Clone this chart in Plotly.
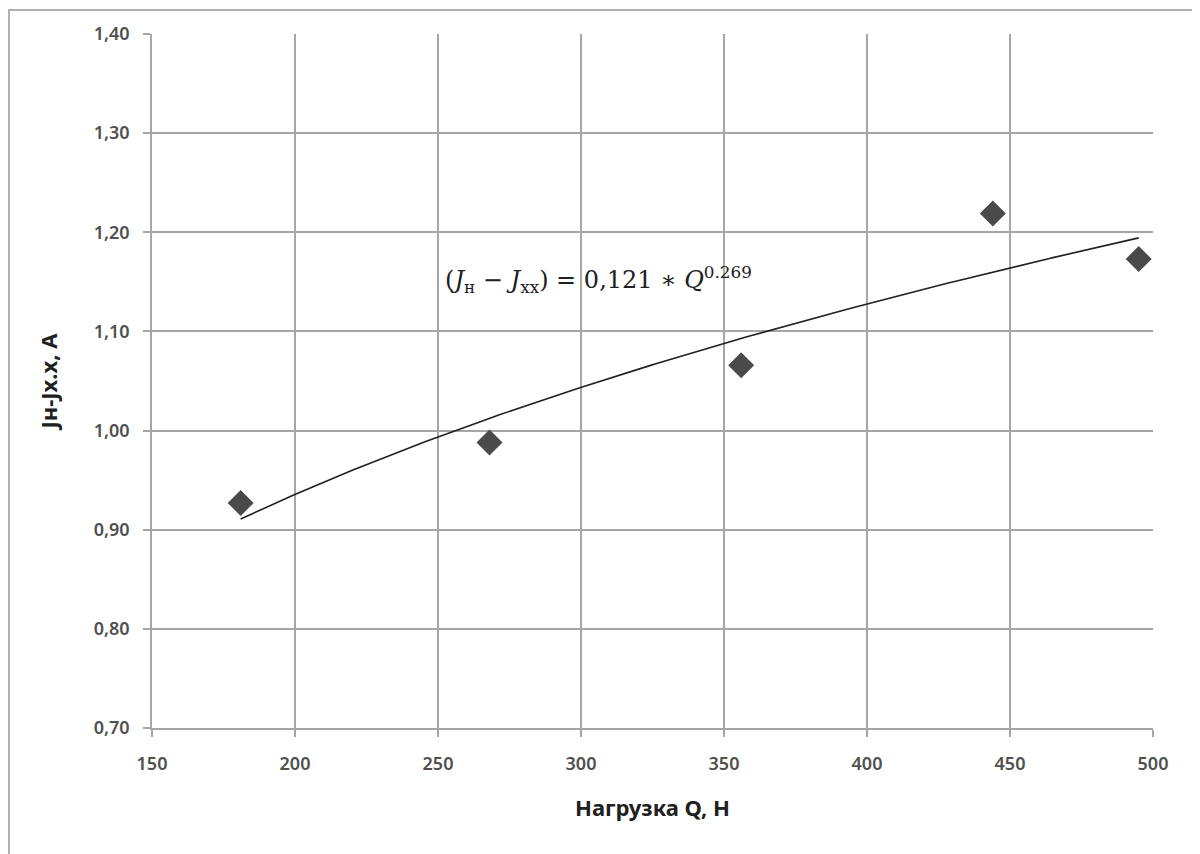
import numpy as np
import plotly.graph_objects as go

load_q = [181, 268, 356, 444, 495]
current_diff = [0.927, 0.988, 1.066, 1.219, 1.173]

x_ticks = [150, 200, 250, 300, 350, 400, 450, 500]
y_ticks = [0.70, 0.80, 0.90, 1.00, 1.10, 1.20, 1.30, 1.40]

# power trendline fitted to the data (as the spreadsheet does)
b, ln_a = np.polyfit(np.log(load_q), np.log(current_diff), 1)
xs = np.linspace(min(load_q), max(load_q), 200)
ys = np.exp(ln_a) * xs ** b

fig = go.Figure()
fig.add_trace(go.Scatter(x=xs, y=ys, mode="lines",
                         line=dict(color="#202020", width=1.6),
                         hoverinfo="skip", showlegend=False))
fig.add_trace(go.Scatter(x=load_q, y=current_diff, mode="markers",
                         marker=dict(symbol="diamond", size=20, color="#4a4a4a",
                                     line=dict(width=0)),
                         showlegend=False))

tick_font = dict(family="Noto Sans", size=18, color="#505050", weight=600)
title_font = dict(family="Noto Sans", size=22, color="#202020", weight=700)
axis_common = dict(showgrid=True, gridcolor="#a6a6a6", gridwidth=1.5,
                   showline=True, linecolor="#a6a6a6", linewidth=1.5,
                   ticks="outside", ticklen=7, tickcolor="#a6a6a6", tickwidth=1.5,
                   zeroline=False, tickfont=tick_font, mirror=False)

fig.update_xaxes(range=[150, 500], tickvals=x_ticks, ticklabelstandoff=12,
                 title=dict(text="Нагрузка Q, Н", font=title_font, standoff=26),
                 **axis_common)
fig.update_yaxes(range=[0.70, 1.40], tickvals=y_ticks, tickformat=".2f",
                 ticklabelstandoff=10,
                 title=dict(text="Jн-Jх.х, А", font=title_font, standoff=30),
                 **axis_common)

fig.add_annotation(x=251.8, y=1.152, xref="x", yref="y", xanchor="left", yanchor="middle",
                   showarrow=False,
                   text="(<i>J</i><sub>н</sub> − <i>J</i><sub>хх</sub>) = 0,121 ∗ <i>Q</i><sup>0.269</sup>",
                   font=dict(family="DejaVu Serif", size=24, color="#202020"))

# outer chart frame (top and left edges visible)
fig.add_shape(type="rect", xref="paper", yref="paper",
              x0=-0.1429, x1=1.1, y0=-0.2, y1=1.0346,
              line=dict(color="#b0b0b0", width=2), layer="below")

fig.update_layout(width=1200, height=854,
                  margin=dict(l=144, r=55, t=26, b=134),
                  plot_bgcolor="white", paper_bgcolor="white",
                  separators=", ")

fig.write_html("out.html")
